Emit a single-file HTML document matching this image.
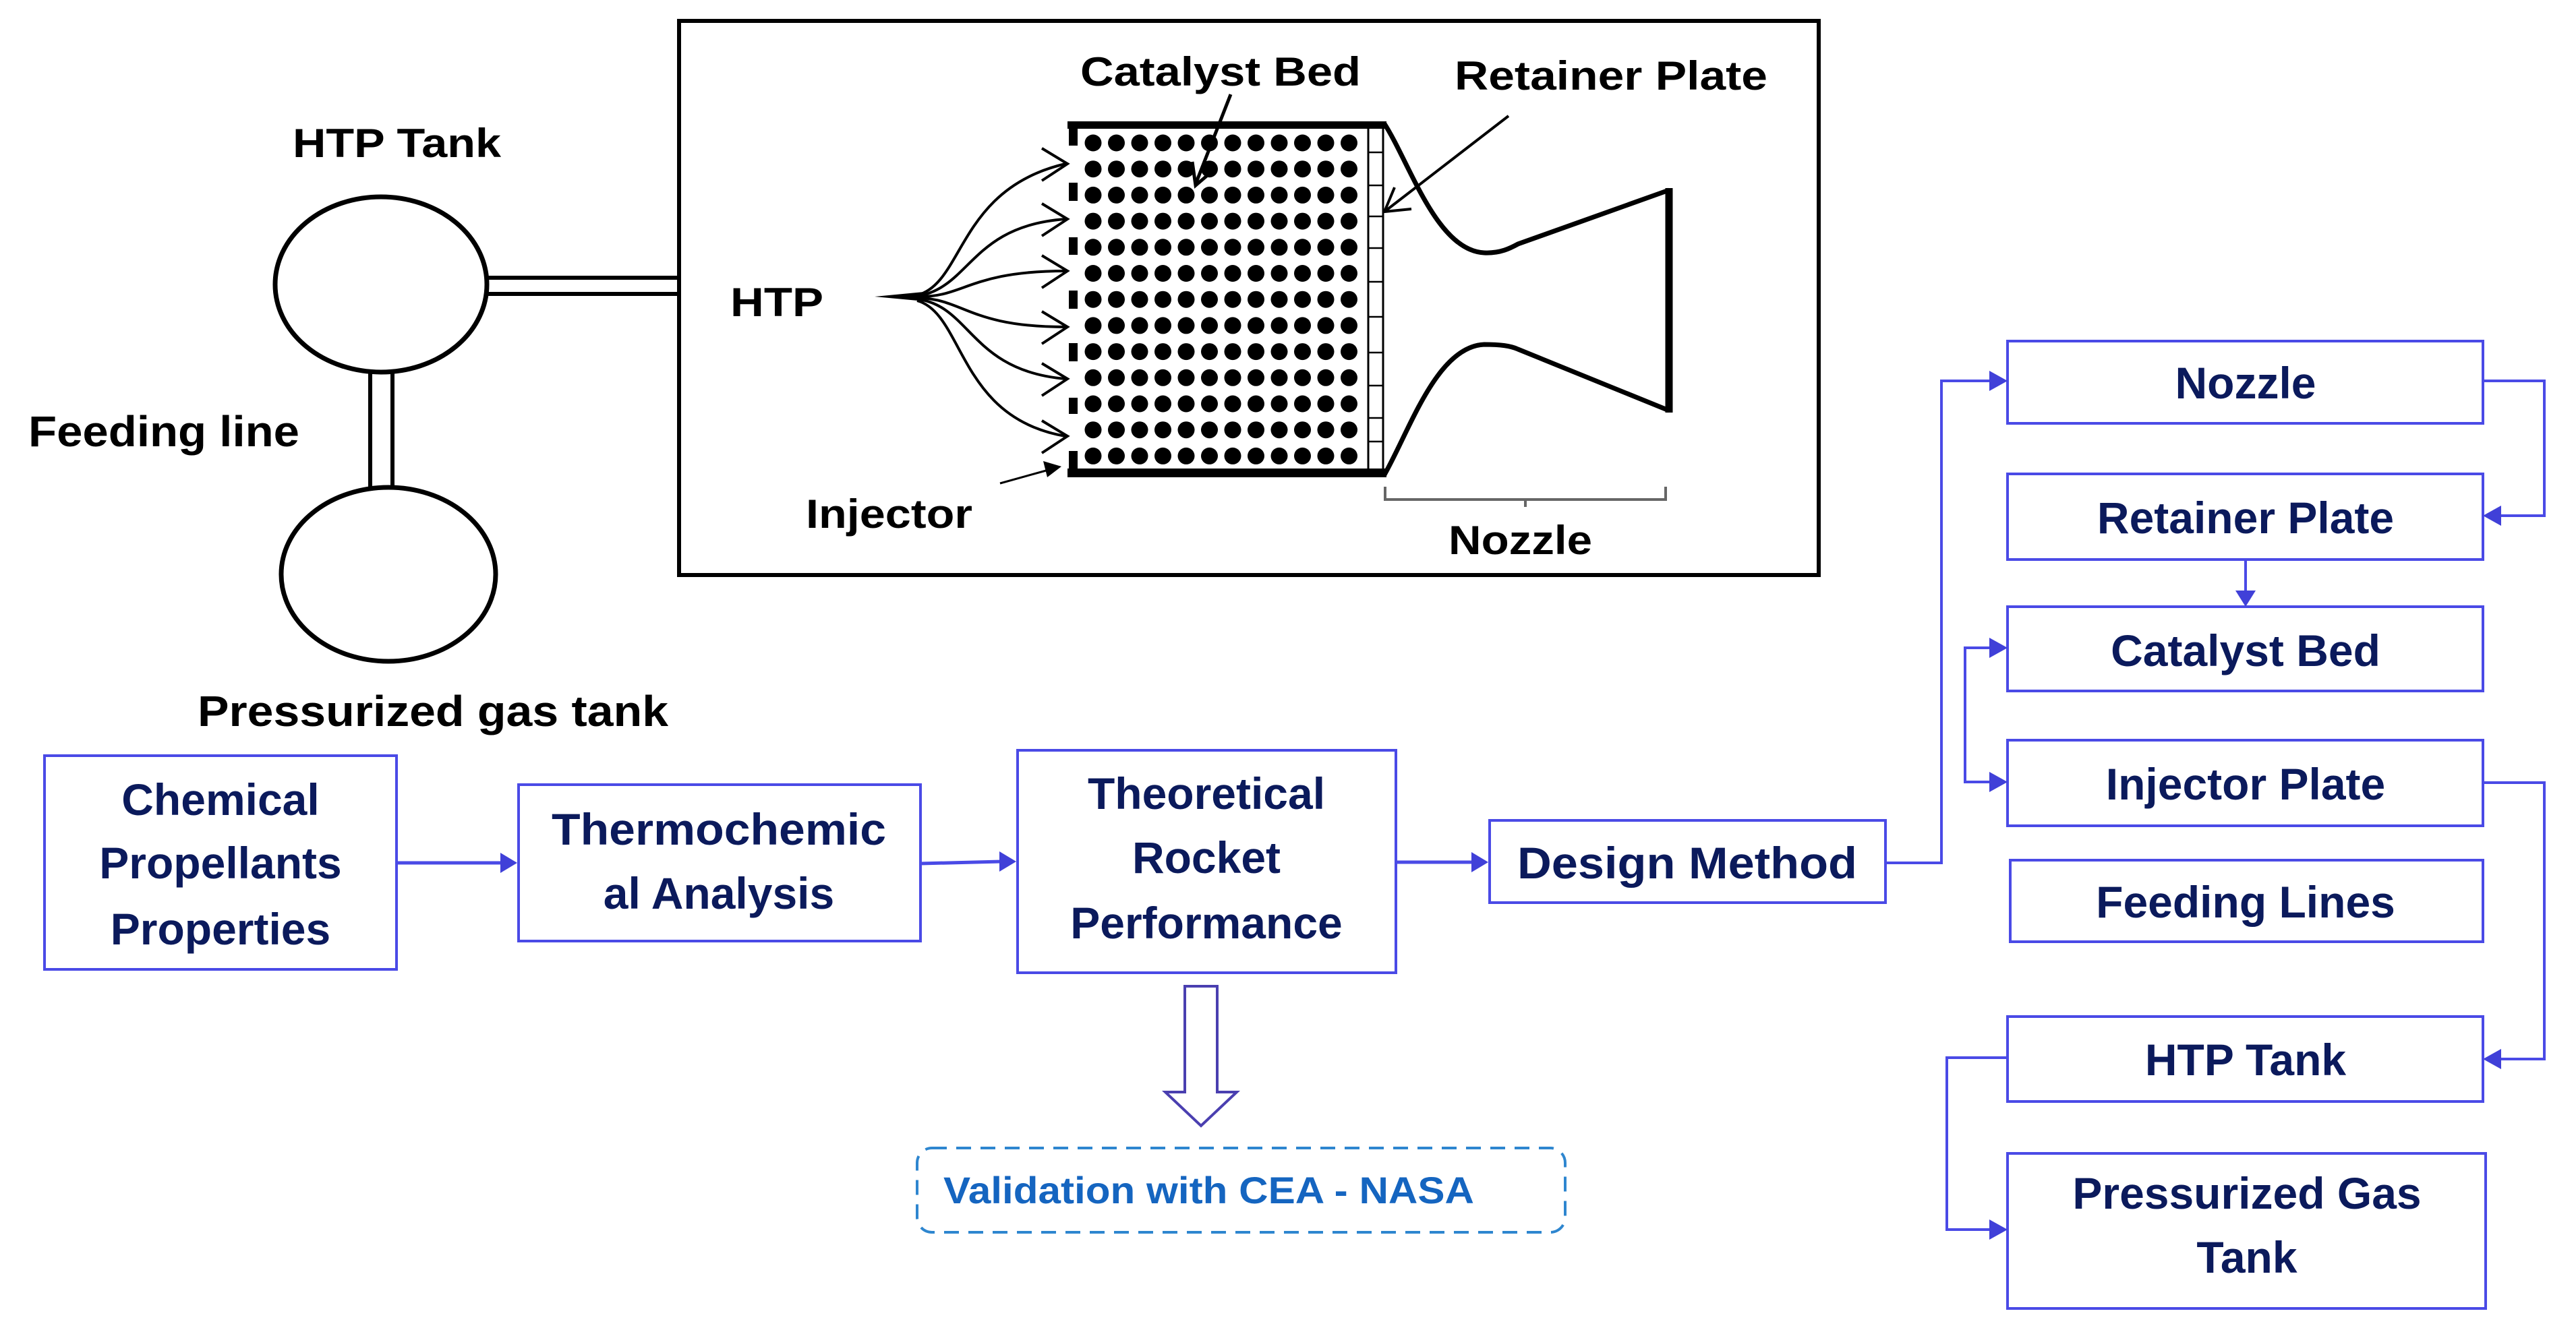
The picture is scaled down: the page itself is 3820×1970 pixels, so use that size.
<!DOCTYPE html>
<html><head><meta charset="utf-8"><style>
html,body{margin:0;padding:0;background:#fff;}
svg{display:block;}
text{font-family:"Liberation Sans",Arial,sans-serif;font-weight:bold;}
.k{fill:#000;}
.n{fill:#0b1a5c;}
</style></head><body>
<svg width="3820" height="1970" viewBox="0 0 3820 1970" xmlns="http://www.w3.org/2000/svg">
<defs>
<marker id="ah" markerWidth="10" markerHeight="10" refX="9" refY="5" orient="auto" markerUnits="userSpaceOnUse" viewBox="0 0 10 10">
</marker>
</defs>
<rect width="3820" height="1970" fill="#fff"/>

<!-- Top black diagram -->
<rect x="1007" y="31" width="1690" height="822" fill="none" stroke="#000" stroke-width="6"/>

<!-- tanks -->
<ellipse cx="565" cy="422" rx="157" ry="130" fill="none" stroke="#000" stroke-width="7"/>
<ellipse cx="576" cy="852" rx="159" ry="129" fill="none" stroke="#000" stroke-width="7"/>
<line x1="723" y1="412" x2="1007" y2="412" stroke="#000" stroke-width="6"/>
<line x1="723" y1="436" x2="1007" y2="436" stroke="#000" stroke-width="6"/>
<line x1="549" y1="550" x2="549" y2="726" stroke="#000" stroke-width="6"/>
<line x1="582" y1="550" x2="582" y2="726" stroke="#000" stroke-width="6"/>

<text class="k" x="434" y="233" font-size="60" textLength="309" lengthAdjust="spacingAndGlyphs">HTP Tank</text>
<text class="k" x="42" y="662" font-size="64" textLength="402" lengthAdjust="spacingAndGlyphs">Feeding line</text>
<text class="k" x="293" y="1077" font-size="64" textLength="698" lengthAdjust="spacingAndGlyphs">Pressurized gas tank</text>
<text class="k" x="1083" y="469" font-size="60" textLength="138" lengthAdjust="spacingAndGlyphs">HTP</text>
<text class="k" x="1195" y="783" font-size="60" textLength="247" lengthAdjust="spacingAndGlyphs">Injector</text>
<text class="k" x="1602" y="127" font-size="60" textLength="416" lengthAdjust="spacingAndGlyphs">Catalyst Bed</text>
<text class="k" x="2157" y="133" font-size="60" textLength="464" lengthAdjust="spacingAndGlyphs">Retainer Plate</text>
<text class="k" x="2148" y="822" font-size="60" textLength="213" lengthAdjust="spacingAndGlyphs">Nozzle</text>

<!-- catalyst bed -->
<rect x="1583" y="180" width="473" height="11" fill="#000"/>
<rect x="1583" y="695" width="473" height="13" fill="#000"/>
<g fill="#000">
<rect x="1585" y="182" width="13" height="34"/>
<rect x="1585" y="271" width="13" height="27"/>
<rect x="1585" y="352" width="13" height="26"/>
<rect x="1585" y="431" width="13" height="27"/>
<rect x="1585" y="509" width="13" height="27"/>
<rect x="1585" y="590" width="13" height="24"/>
<rect x="1585" y="669" width="13" height="34"/>
</g>
<g id="dots" fill="#000">
</g>
<line x1="2029" y1="191" x2="2029" y2="695" stroke="#000" stroke-width="3"/>
<line x1="2051" y1="191" x2="2051" y2="695" stroke="#000" stroke-width="3"/>
<g stroke="#000" stroke-width="2.5">
<line x1="2029" y1="226" x2="2051" y2="226"/><line x1="2029" y1="275" x2="2051" y2="275"/>
<line x1="2029" y1="321" x2="2051" y2="321"/><line x1="2029" y1="368" x2="2051" y2="368"/>
<line x1="2029" y1="418" x2="2051" y2="418"/><line x1="2029" y1="470" x2="2051" y2="470"/>
<line x1="2029" y1="523" x2="2051" y2="523"/><line x1="2029" y1="572" x2="2051" y2="572"/>
<line x1="2029" y1="620" x2="2051" y2="620"/><line x1="2029" y1="655" x2="2051" y2="655"/>
</g>

<!-- nozzle -->
<path d="M2052,182 C2090,240 2130,372 2201,375 C2225,376 2240,368 2251,362 L2475,282" fill="none" stroke="#000" stroke-width="7"/>
<path d="M2475,609 L2251,518 C2240,513 2225,511 2201,511 C2130,514 2090,640 2052,706" fill="none" stroke="#000" stroke-width="7"/>
<line x1="2475" y1="279" x2="2475" y2="612" stroke="#000" stroke-width="11"/>
<path d="M2054,722 L2054,741 L2470,741 L2470,722 M2262,741 L2262,752" fill="none" stroke="#666" stroke-width="4"/>

<!-- pointers -->
<line x1="2237" y1="172" x2="2053" y2="314" stroke="#000" stroke-width="4"/>
<path d="M2068,278 L2053,314 L2093,310" fill="none" stroke="#000" stroke-width="4"/>
<line x1="1825" y1="140" x2="1773" y2="273" stroke="#000" stroke-width="5"/>
<path d="M1768,240 L1773,275 L1800,252" fill="none" stroke="#000" stroke-width="5"/>
<line x1="1483" y1="717" x2="1555" y2="697" stroke="#000" stroke-width="3"/>
<polygon points="1574,692 1547,684 1553,708" fill="#000"/>

<!-- HTP fan -->
<path d="M1297,440 L1370,433 L1372,447 Z" fill="#000"/>
<g fill="none" stroke="#000" stroke-width="4">
<path d="M1360,438 C1430,420 1420,280 1580,243"/>
<path d="M1362,439 C1440,425 1440,335 1580,325"/>
<path d="M1365,440 C1430,440 1440,402 1580,402"/>
<path d="M1365,442 C1430,445 1440,485 1580,485"/>
<path d="M1362,444 C1440,455 1440,550 1580,562"/>
<path d="M1360,446 C1430,465 1420,620 1580,647"/>
<path d="M1545,220 L1583,243 L1545,268"/>
<path d="M1545,302 L1583,325 L1545,350"/>
<path d="M1545,379 L1583,402 L1545,427"/>
<path d="M1545,462 L1583,485 L1545,510"/>
<path d="M1545,539 L1583,562 L1545,587"/>
<path d="M1545,624 L1583,647 L1545,672"/>
</g>

<!-- Flow boxes left -->
<g fill="#fff" stroke="#4a4ae6" stroke-width="4">
<rect x="66" y="1121" width="522" height="317"/>
<rect x="769" y="1164" width="596" height="232"/>
<rect x="1509" y="1113" width="561" height="330"/>
<rect x="2209" y="1217" width="587" height="122"/>
</g>
<g font-size="66" text-anchor="middle" class="n">
<text class="n" x="327" y="1209">Chemical</text>
<text class="n" x="327" y="1303">Propellants</text>
<text class="n" x="327" y="1401">Properties</text>
<text class="n" x="1066" y="1253" textLength="496" lengthAdjust="spacingAndGlyphs">Thermochemic</text>
<text class="n" x="1066" y="1348">al Analysis</text>
<text class="n" x="1789" y="1200">Theoretical</text>
<text class="n" x="1789" y="1295">Rocket</text>
<text class="n" x="1789" y="1392">Performance</text>
<text class="n" x="2502" y="1303" textLength="504" lengthAdjust="spacingAndGlyphs">Design Method</text>
</g>

<g stroke="#4a4ae6" stroke-width="5" fill="none">
<line x1="588" y1="1280" x2="745" y2="1280"/>
<line x1="1365" y1="1281" x2="1485" y2="1278"/>
<line x1="2070" y1="1279" x2="2185" y2="1279"/>
</g>
<g fill="#4040d8">
<polygon points="767,1280 742,1265 742,1295"/>
<polygon points="1507,1278 1482,1263 1482,1293"/>
<polygon points="2207,1279 2182,1264 2182,1294"/>
</g>

<!-- hollow arrow -->
<path d="M1757,1463 L1805,1463 L1805,1620 L1834,1620 L1781,1670 L1728,1620 L1757,1620 Z" fill="#fff" stroke="#4a3fb0" stroke-width="4"/>

<!-- dashed box -->
<rect x="1360" y="1703" width="961" height="125" rx="22" fill="none" stroke="#2e86cf" stroke-width="4" stroke-dasharray="22 14"/>
<text x="1399" y="1785" font-size="56" fill="#1565c0" textLength="787" lengthAdjust="spacingAndGlyphs">Validation with CEA - NASA</text>

<!-- right column -->
<g fill="#fff" stroke="#4a4ae6" stroke-width="4">
<rect x="2977" y="506" width="705" height="122"/>
<rect x="2977" y="703" width="705" height="127"/>
<rect x="2977" y="900" width="705" height="125"/>
<rect x="2977" y="1098" width="705" height="127"/>
<rect x="2981" y="1276" width="701" height="121"/>
<rect x="2977" y="1508" width="705" height="126"/>
<rect x="2977" y="1711" width="709" height="230"/>
</g>
<g font-size="66" text-anchor="middle" class="n">
<text class="n" x="3330" y="591">Nozzle</text>
<text class="n" x="3330" y="791">Retainer Plate</text>
<text class="n" x="3330" y="988">Catalyst Bed</text>
<text class="n" x="3330" y="1186">Injector Plate</text>
<text class="n" x="3330" y="1361">Feeding Lines</text>
<text class="n" x="3330" y="1595">HTP Tank</text>
<text class="n" x="3332" y="1793">Pressurized Gas</text>
<text class="n" x="3332" y="1888">Tank</text>
</g>

<g stroke="#4a4ae6" stroke-width="4" fill="none">
<polyline points="2796,1280 2879,1280 2879,565 2955,565"/>
<polyline points="3682,565 3773,565 3773,765 3705,765"/>
<line x1="3330" y1="830" x2="3330" y2="880"/>
<polyline points="2955,961 2914,961 2914,1160 2955,1160"/>
<polyline points="3682,1161 3773,1161 3773,1571 3705,1571"/>
<polyline points="2977,1569 2887,1569 2887,1824 2955,1824"/>
</g>
<g fill="#4040d8">
<polygon points="2977,565 2950,550 2950,580"/>
<polygon points="3682,765 3709,750 3709,780"/>
<polygon points="3330,900 3315,876 3345,876"/>
<polygon points="2977,961 2950,946 2950,976"/>
<polygon points="2977,1160 2950,1145 2950,1175"/>
<polygon points="3682,1571 3709,1556 3709,1586"/>
<polygon points="2977,1824 2950,1809 2950,1839"/>
</g>

<!-- dots grid -->
<g fill="#000">
<circle cx="1621" cy="212" r="12.5"/><circle cx="1655.5" cy="212" r="12.5"/><circle cx="1690" cy="212" r="12.5"/><circle cx="1724.5" cy="212" r="12.5"/><circle cx="1759" cy="212" r="12.5"/><circle cx="1793.5" cy="212" r="12.5"/><circle cx="1828" cy="212" r="12.5"/><circle cx="1862.5" cy="212" r="12.5"/><circle cx="1897" cy="212" r="12.5"/><circle cx="1931.5" cy="212" r="12.5"/><circle cx="1966" cy="212" r="12.5"/><circle cx="2000.5" cy="212" r="12.5"/>
<circle cx="1621" cy="250.7" r="12.5"/><circle cx="1655.5" cy="250.7" r="12.5"/><circle cx="1690" cy="250.7" r="12.5"/><circle cx="1724.5" cy="250.7" r="12.5"/><circle cx="1759" cy="250.7" r="12.5"/><circle cx="1793.5" cy="250.7" r="12.5"/><circle cx="1828" cy="250.7" r="12.5"/><circle cx="1862.5" cy="250.7" r="12.5"/><circle cx="1897" cy="250.7" r="12.5"/><circle cx="1931.5" cy="250.7" r="12.5"/><circle cx="1966" cy="250.7" r="12.5"/><circle cx="2000.5" cy="250.7" r="12.5"/>
<circle cx="1621" cy="289.4" r="12.5"/><circle cx="1655.5" cy="289.4" r="12.5"/><circle cx="1690" cy="289.4" r="12.5"/><circle cx="1724.5" cy="289.4" r="12.5"/><circle cx="1759" cy="289.4" r="12.5"/><circle cx="1793.5" cy="289.4" r="12.5"/><circle cx="1828" cy="289.4" r="12.5"/><circle cx="1862.5" cy="289.4" r="12.5"/><circle cx="1897" cy="289.4" r="12.5"/><circle cx="1931.5" cy="289.4" r="12.5"/><circle cx="1966" cy="289.4" r="12.5"/><circle cx="2000.5" cy="289.4" r="12.5"/>
<circle cx="1621" cy="328.1" r="12.5"/><circle cx="1655.5" cy="328.1" r="12.5"/><circle cx="1690" cy="328.1" r="12.5"/><circle cx="1724.5" cy="328.1" r="12.5"/><circle cx="1759" cy="328.1" r="12.5"/><circle cx="1793.5" cy="328.1" r="12.5"/><circle cx="1828" cy="328.1" r="12.5"/><circle cx="1862.5" cy="328.1" r="12.5"/><circle cx="1897" cy="328.1" r="12.5"/><circle cx="1931.5" cy="328.1" r="12.5"/><circle cx="1966" cy="328.1" r="12.5"/><circle cx="2000.5" cy="328.1" r="12.5"/>
<circle cx="1621" cy="366.8" r="12.5"/><circle cx="1655.5" cy="366.8" r="12.5"/><circle cx="1690" cy="366.8" r="12.5"/><circle cx="1724.5" cy="366.8" r="12.5"/><circle cx="1759" cy="366.8" r="12.5"/><circle cx="1793.5" cy="366.8" r="12.5"/><circle cx="1828" cy="366.8" r="12.5"/><circle cx="1862.5" cy="366.8" r="12.5"/><circle cx="1897" cy="366.8" r="12.5"/><circle cx="1931.5" cy="366.8" r="12.5"/><circle cx="1966" cy="366.8" r="12.5"/><circle cx="2000.5" cy="366.8" r="12.5"/>
<circle cx="1621" cy="405.5" r="12.5"/><circle cx="1655.5" cy="405.5" r="12.5"/><circle cx="1690" cy="405.5" r="12.5"/><circle cx="1724.5" cy="405.5" r="12.5"/><circle cx="1759" cy="405.5" r="12.5"/><circle cx="1793.5" cy="405.5" r="12.5"/><circle cx="1828" cy="405.5" r="12.5"/><circle cx="1862.5" cy="405.5" r="12.5"/><circle cx="1897" cy="405.5" r="12.5"/><circle cx="1931.5" cy="405.5" r="12.5"/><circle cx="1966" cy="405.5" r="12.5"/><circle cx="2000.5" cy="405.5" r="12.5"/>
<circle cx="1621" cy="444.2" r="12.5"/><circle cx="1655.5" cy="444.2" r="12.5"/><circle cx="1690" cy="444.2" r="12.5"/><circle cx="1724.5" cy="444.2" r="12.5"/><circle cx="1759" cy="444.2" r="12.5"/><circle cx="1793.5" cy="444.2" r="12.5"/><circle cx="1828" cy="444.2" r="12.5"/><circle cx="1862.5" cy="444.2" r="12.5"/><circle cx="1897" cy="444.2" r="12.5"/><circle cx="1931.5" cy="444.2" r="12.5"/><circle cx="1966" cy="444.2" r="12.5"/><circle cx="2000.5" cy="444.2" r="12.5"/>
<circle cx="1621" cy="482.9" r="12.5"/><circle cx="1655.5" cy="482.9" r="12.5"/><circle cx="1690" cy="482.9" r="12.5"/><circle cx="1724.5" cy="482.9" r="12.5"/><circle cx="1759" cy="482.9" r="12.5"/><circle cx="1793.5" cy="482.9" r="12.5"/><circle cx="1828" cy="482.9" r="12.5"/><circle cx="1862.5" cy="482.9" r="12.5"/><circle cx="1897" cy="482.9" r="12.5"/><circle cx="1931.5" cy="482.9" r="12.5"/><circle cx="1966" cy="482.9" r="12.5"/><circle cx="2000.5" cy="482.9" r="12.5"/>
<circle cx="1621" cy="521.6" r="12.5"/><circle cx="1655.5" cy="521.6" r="12.5"/><circle cx="1690" cy="521.6" r="12.5"/><circle cx="1724.5" cy="521.6" r="12.5"/><circle cx="1759" cy="521.6" r="12.5"/><circle cx="1793.5" cy="521.6" r="12.5"/><circle cx="1828" cy="521.6" r="12.5"/><circle cx="1862.5" cy="521.6" r="12.5"/><circle cx="1897" cy="521.6" r="12.5"/><circle cx="1931.5" cy="521.6" r="12.5"/><circle cx="1966" cy="521.6" r="12.5"/><circle cx="2000.5" cy="521.6" r="12.5"/>
<circle cx="1621" cy="560.3" r="12.5"/><circle cx="1655.5" cy="560.3" r="12.5"/><circle cx="1690" cy="560.3" r="12.5"/><circle cx="1724.5" cy="560.3" r="12.5"/><circle cx="1759" cy="560.3" r="12.5"/><circle cx="1793.5" cy="560.3" r="12.5"/><circle cx="1828" cy="560.3" r="12.5"/><circle cx="1862.5" cy="560.3" r="12.5"/><circle cx="1897" cy="560.3" r="12.5"/><circle cx="1931.5" cy="560.3" r="12.5"/><circle cx="1966" cy="560.3" r="12.5"/><circle cx="2000.5" cy="560.3" r="12.5"/>
<circle cx="1621" cy="599" r="12.5"/><circle cx="1655.5" cy="599" r="12.5"/><circle cx="1690" cy="599" r="12.5"/><circle cx="1724.5" cy="599" r="12.5"/><circle cx="1759" cy="599" r="12.5"/><circle cx="1793.5" cy="599" r="12.5"/><circle cx="1828" cy="599" r="12.5"/><circle cx="1862.5" cy="599" r="12.5"/><circle cx="1897" cy="599" r="12.5"/><circle cx="1931.5" cy="599" r="12.5"/><circle cx="1966" cy="599" r="12.5"/><circle cx="2000.5" cy="599" r="12.5"/>
<circle cx="1621" cy="637.7" r="12.5"/><circle cx="1655.5" cy="637.7" r="12.5"/><circle cx="1690" cy="637.7" r="12.5"/><circle cx="1724.5" cy="637.7" r="12.5"/><circle cx="1759" cy="637.7" r="12.5"/><circle cx="1793.5" cy="637.7" r="12.5"/><circle cx="1828" cy="637.7" r="12.5"/><circle cx="1862.5" cy="637.7" r="12.5"/><circle cx="1897" cy="637.7" r="12.5"/><circle cx="1931.5" cy="637.7" r="12.5"/><circle cx="1966" cy="637.7" r="12.5"/><circle cx="2000.5" cy="637.7" r="12.5"/>
<circle cx="1621" cy="676.4" r="12.5"/><circle cx="1655.5" cy="676.4" r="12.5"/><circle cx="1690" cy="676.4" r="12.5"/><circle cx="1724.5" cy="676.4" r="12.5"/><circle cx="1759" cy="676.4" r="12.5"/><circle cx="1793.5" cy="676.4" r="12.5"/><circle cx="1828" cy="676.4" r="12.5"/><circle cx="1862.5" cy="676.4" r="12.5"/><circle cx="1897" cy="676.4" r="12.5"/><circle cx="1931.5" cy="676.4" r="12.5"/><circle cx="1966" cy="676.4" r="12.5"/><circle cx="2000.5" cy="676.4" r="12.5"/>
</g>
</svg>
</body></html>
